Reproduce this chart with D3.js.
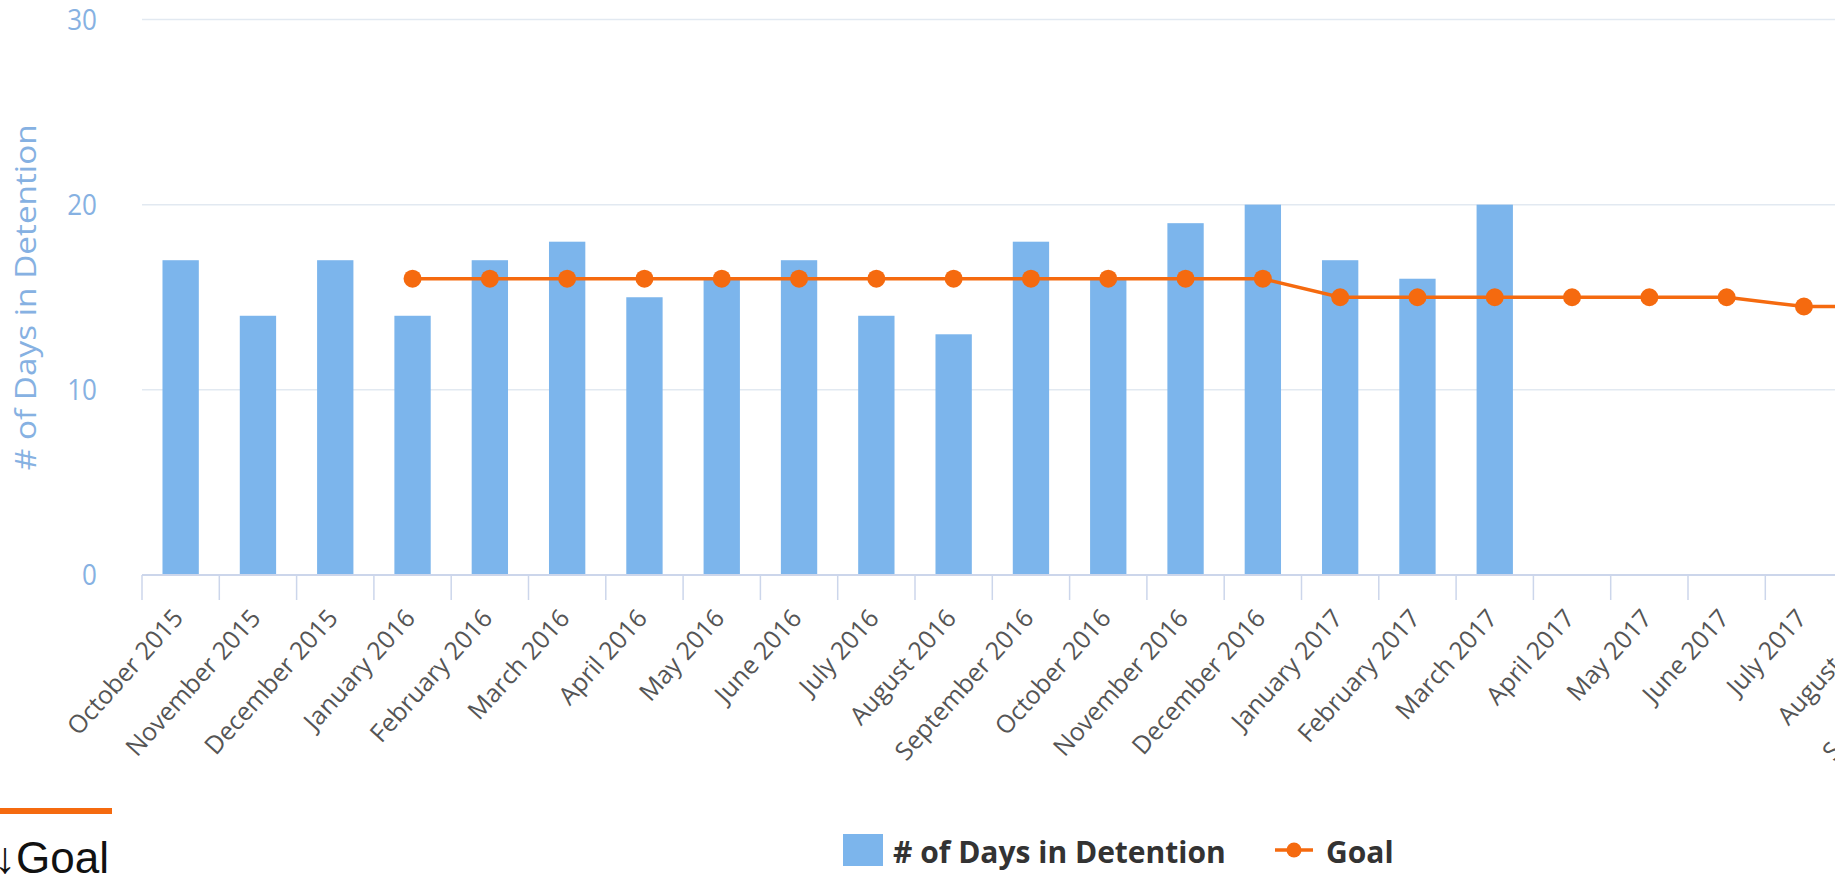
<!DOCTYPE html>
<html>
<head>
<meta charset="utf-8">
<script src="https://cdn.jsdelivr.net/npm/d3@7"></script>
<style>
  body { margin: 0; background: #fff; }
  svg { display: block; overflow: hidden; font-family: "Open Sans", sans-serif; }
</style>
</head>
<body>
<svg width="1835" height="876"></svg>
<script>
// Months on the x axis (the picture is cut off on the right, after September 2017)
const months = [
  "October 2015", "November 2015", "December 2015", "January 2016", "February 2016",
  "March 2016", "April 2016", "May 2016", "June 2016", "July 2016", "August 2016",
  "September 2016", "October 2016", "November 2016", "December 2016", "January 2017",
  "February 2017", "March 2017", "April 2017", "May 2017", "June 2017", "July 2017",
  "August 2017", "September 2017"
];

// # of Days in Detention, one bar per month (no data after March 2017)
const days = [17, 14, 17, 14, 17, 18, 15, 16, 17, 14, 13, 18, 16, 19, 20, 17, 16, 20,
  null, null, null, null, null, null];

// Goal, starts in January 2016
const goal = [null, null, null, 16, 16, 16, 16, 16, 16, 16, 16, 16, 16, 16, 16,
  15, 15, 15, 15, 15, 15, 14.5, 14.5, 14.5];

const yTicks = [0, 10, 20, 30];

const blue = "#7cb5ec";
const orange = "#f56a0f";
const axisBlue = "#86b1e2";

const svg = d3.select("svg");

// plot area, it runs past the right edge of the picture
const plotLeft = 142, plotTop = 19.5, plotBottom = 575, step = 77.3;
const plotRight = plotLeft + step * months.length;

const x = d3.scaleBand()
  .domain(months)
  .range([plotLeft, plotRight])
  .paddingInner(0.53)
  .paddingOuter(0.265);

const y = d3.scaleLinear()
  .domain([0, 30])
  .range([plotBottom, plotTop]);

const center = d => x(d) + x.bandwidth() / 2;

// horizontal grid lines
svg.append("g")
  .selectAll("line")
  .data(yTicks.filter(d => d > 0))
  .enter().append("line")
    .attr("x1", plotLeft).attr("x2", plotRight)
    .attr("y1", d => y(d)).attr("y2", d => y(d))
    .attr("stroke", "#e2e9f1")
    .attr("stroke-width", 1.5);

// y tick labels
svg.append("g")
  .selectAll("text")
  .data(yTicks)
  .enter().append("text")
    .attr("transform", d => "translate(97," + y(d) + ") scale(1,1.1)")
    .attr("dy", "0.35em")
    .attr("text-anchor", "end")
    .attr("font-size", 26)
    .attr("fill", axisBlue)
    .text(d => d);

// y axis title
svg.append("text")
  .attr("transform", "translate(36," + (plotBottom + plotTop) / 2 + ") scale(1,1.11) rotate(-90)")
  .attr("text-anchor", "middle")
  .attr("font-size", 30)
  .attr("fill", axisBlue)
  .text("# of Days in Detention");

// bars
svg.append("g")
  .selectAll("rect")
  .data(months.map((m, i) => ({ month: m, value: days[i] })).filter(d => d.value != null))
  .enter().append("rect")
    .attr("x", d => x(d.month))
    .attr("y", d => y(d.value))
    .attr("width", x.bandwidth())
    .attr("height", d => y(0) - y(d.value))
    .attr("fill", blue);

// x axis line and ticks between the categories
const xAxis = svg.append("g");
xAxis.append("line")
  .attr("x1", plotLeft).attr("x2", plotRight)
  .attr("y1", plotBottom).attr("y2", plotBottom)
  .attr("stroke", "#ccd6eb")
  .attr("stroke-width", 2);

xAxis.selectAll(".tick")
  .data(d3.range(months.length + 1))
  .enter().append("line")
    .attr("class", "tick")
    .attr("x1", i => plotLeft + i * x.step()).attr("x2", i => plotLeft + i * x.step())
    .attr("y1", plotBottom).attr("y2", plotBottom + 25)
    .attr("stroke", "#ccd6eb")
    .attr("stroke-width", 1.5);

// rotated month labels
xAxis.selectAll(".label")
  .data(months)
  .enter().append("text")
    .attr("class", "label")
    .attr("transform", d => "translate(" + (center(d) + 4) + "," + (plotBottom + 44) + ") rotate(-48)")
    .attr("text-anchor", "end")
    .attr("font-size", 25)
    .attr("fill", "#555")
    .text(d => d);

// goal line with markers
const goalData = months.map((m, i) => ({ month: m, value: goal[i] })).filter(d => d.value != null);

const line = d3.line()
  .x(d => center(d.month))
  .y(d => y(d.value));

svg.append("path")
  .datum(goalData)
  .attr("d", line)
  .attr("fill", "none")
  .attr("stroke", orange)
  .attr("stroke-width", 3.5);

svg.append("g")
  .selectAll("circle")
  .data(goalData)
  .enter().append("circle")
    .attr("cx", d => center(d.month))
    .attr("cy", d => y(d.value))
    .attr("r", 9)
    .attr("fill", orange);

// legend
const legend = svg.append("g");
legend.append("rect")
  .attr("x", 843).attr("y", 834)
  .attr("width", 40).attr("height", 32)
  .attr("fill", blue);
legend.append("text")
  .attr("x", 893).attr("y", 863)
  .attr("font-size", 30)
  .attr("font-weight", "bold")
  .attr("fill", "#333")
  .text("# of Days in Detention");
legend.append("line")
  .attr("x1", 1275).attr("x2", 1313)
  .attr("y1", 850).attr("y2", 850)
  .attr("stroke", orange)
  .attr("stroke-width", 3.5);
legend.append("circle")
  .attr("cx", 1294).attr("cy", 850)
  .attr("r", 7.5)
  .attr("fill", orange);
legend.append("text")
  .attr("x", 1326).attr("y", 863)
  .attr("font-size", 30)
  .attr("font-weight", "bold")
  .attr("fill", "#333")
  .text("Goal");

// leftover piece of another legend in the bottom left corner
svg.append("rect")
  .attr("x", 0).attr("y", 808)
  .attr("width", 112).attr("height", 6)
  .attr("fill", orange);
svg.append("text")
  .attr("x", 109).attr("y", 873)
  .attr("text-anchor", "end")
  .attr("font-family", "Liberation Sans, Arial, sans-serif")
  .attr("font-size", 44)
  .attr("fill", "#111")
  .text("↓Goal");
</script>
</body>
</html>
